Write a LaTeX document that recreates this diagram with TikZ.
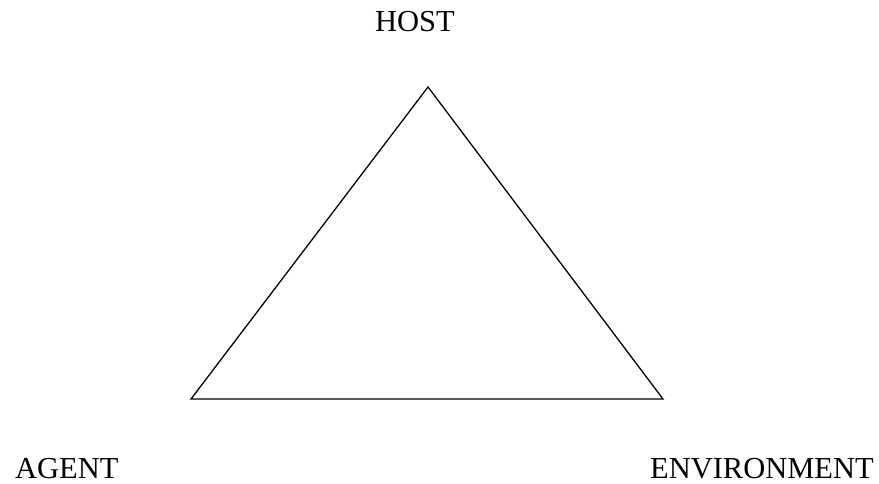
\documentclass[tikz,border=0pt]{standalone}
\usepackage{fontspec}
\setmainfont{Liberation Serif}
\usetikzlibrary{positioning, calc}
\tikzset{
  corner/.style={font=\fontsize{30.5}{36}\selectfont, inner sep=0pt, text depth=0pt},
  side/.style={black, line width=1.3pt, line join=miter}
}

\begin{document}
\begin{tikzpicture}[x=1pt, y=-1pt]
  \useasboundingbox (0,0) rectangle (879,483);
  % triangle corners
  \coordinate (top) at (428,87);
  \coordinate (left) at (191,399);
  \coordinate (right) at (663,399);
  \draw[side] (top) -- (left) -- (right) -- cycle;
  % labels
  \node[corner, anchor=base] (host) at (415,31) {HOST};
  \node[corner, anchor=base west] (agent) at (15,478) {AGENT};
  \node[corner, anchor=base east] (env) at (874,478) {ENVIRONMENT};
\end{tikzpicture}
\end{document}
